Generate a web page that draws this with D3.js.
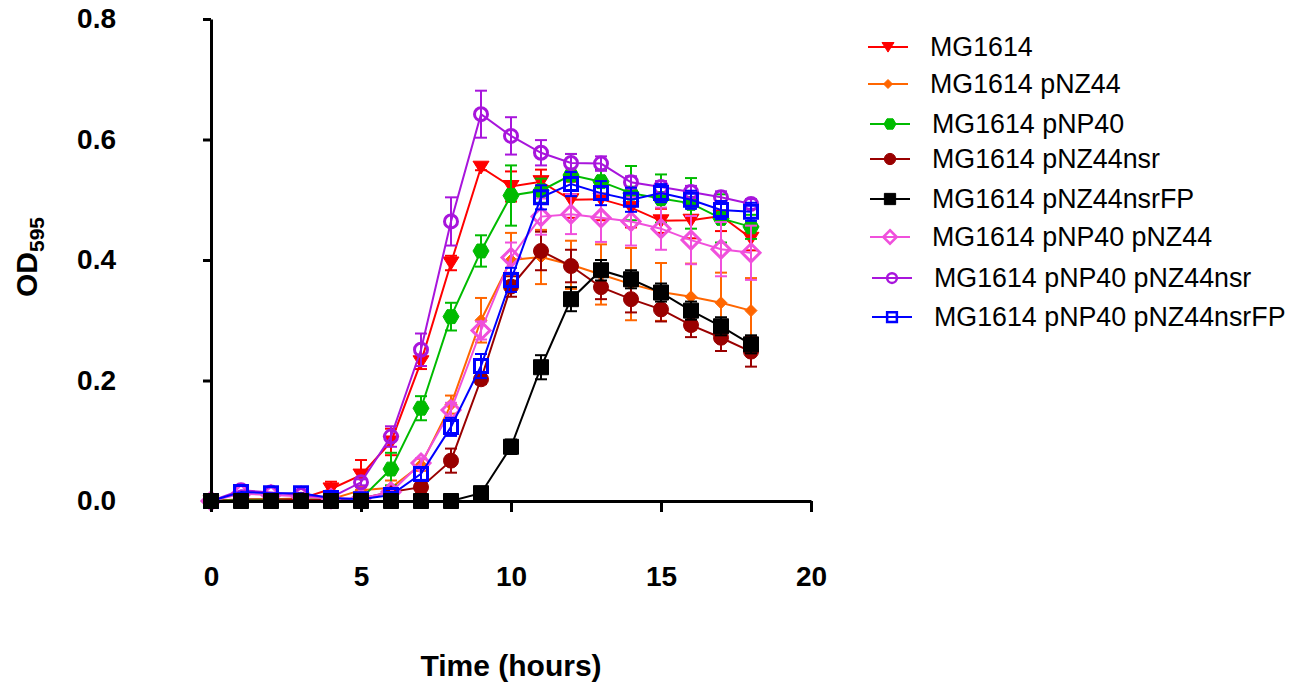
<!DOCTYPE html>
<html>
<head>
<meta charset="utf-8">
<script src="https://d3js.org/d3.v7.min.js"></script>
<style>
  body { margin: 0; background: #fff; }
  svg text { font-family: "Liberation Sans", Arial, sans-serif; }
  .axis text { font-weight: bold; font-size: 28px; fill: #000; }
</style>
</head>
<body>
<div id="growth"></div>
<script>
// time points (hours)
var times = [0,1,2,3,4,5,6,7,8,9,10,11,12,13,14,15,16,17,18];

var seriesNames = ["MG1614", "MG1614 pNZ44", "MG1614 pNP40", "MG1614 pNZ44nsr",
                   "MG1614 pNZ44nsrFP", "MG1614 pNP40 pNZ44", "MG1614 pNP40 pNZ44nsr",
                   "MG1614 pNP40 pNZ44nsrFP"];

// OD595 means
var mg1614 =         [0,0.003,0.003,0.004,0.020,0.043,0.098,0.231,0.395,0.554,0.522,0.530,0.500,0.501,0.487,0.465,0.466,0.473,0.436];
var pNZ44 =          [0,0.002,0.002,0.002,0.003,0.018,0.022,0.060,0.160,0.300,0.400,0.405,0.392,0.376,0.360,0.347,0.339,0.329,0.316];
var pNP40 =          [0,0.002,0.002,0.002,0.002,0.004,0.053,0.154,0.306,0.415,0.507,0.515,0.541,0.530,0.511,0.502,0.494,0.469,0.455];
var pNZ44nsr =       [0,0.001,0.001,0.002,0.002,0.004,0.015,0.023,0.067,0.202,0.356,0.415,0.390,0.355,0.335,0.318,0.292,0.271,0.248];
var pNZ44nsrFP =     [0,0,0,0,0,0,0,0,0,0.013,0.090,0.222,0.335,0.383,0.368,0.346,0.316,0.290,0.260];
var pNP40pNZ44 =     [0,0.012,0.010,0.008,0.004,0.004,0.015,0.063,0.151,0.283,0.404,0.472,0.476,0.470,0.464,0.452,0.433,0.418,0.412];
var pNP40pNZ44nsr =  [0,0.018,0.014,0.010,0.006,0.031,0.107,0.251,0.464,0.642,0.606,0.578,0.561,0.560,0.529,0.521,0.513,0.504,0.493];
var pNP40pNZ44nsrFP =[0,0.015,0.013,0.013,0.005,0.003,0.010,0.045,0.123,0.224,0.367,0.504,0.526,0.511,0.500,0.511,0.500,0.483,0.480];

// error bars (SEM)
var mg1614Err =         [0,0.002,0.002,0.004,0.012,0.025,0.022,0.012,0.012,0.005,0.025,0.020,0.030,0.035,0.033,0.020,0.030,0.025,0.020];
var pNZ44Err =          [0,0,0,0,0.002,0.005,0.012,0.010,0.015,0.037,0.045,0.045,0.040,0.050,0.060,0.048,0.055,0.050,0.054];
var pNP40Err =          [0,0,0,0,0,0.003,0.027,0.020,0.023,0.026,0.050,0.020,0.035,0.020,0.045,0.040,0.042,0.040,0.020];
var pNZ44nsrErr =       [0,0,0,0,0,0.002,0.005,0.010,0.020,0.008,0.017,0.032,0.027,0.020,0.022,0.020,0.020,0.022,0.025];
var pNZ44nsrFPErr =     [0,0,0,0,0,0,0,0,0,0.003,0.012,0.020,0.020,0.017,0.015,0.015,0.015,0.015,0.015];
var pNP40pNZ44Err =     [0,0.003,0.003,0.003,0.002,0.002,0.005,0.008,0.012,0.015,0.025,0.030,0.033,0.040,0.040,0.035,0.040,0.045,0.045];
var pNP40pNZ44nsrErr =  [0,0.003,0.002,0.002,0.002,0.005,0.017,0.027,0.040,0.039,0.031,0.021,0.015,0.012,0.010,0.010,0.010,0.010,0.008];
var pNP40pNZ44nsrFPErr =[0,0.003,0.003,0.003,0.002,0.002,0.005,0.010,0.015,0.020,0.020,0.020,0.020,0.020,0.020,0.015,0.015,0.015,0.015];

var xTicks = [0, 5, 10, 15, 20];
var yTicks = [0, 0.2, 0.4, 0.6, 0.8];

var colors = ["#ff0000", "#ff6600", "#00bb00", "#990000", "#000000", "#f050dc", "#a815dc", "#0000ff"];
var shapes = ["triDown", "smallDiamond", "hexagon", "circle", "square", "openDiamond", "openCircle", "openSquare"];

var means = [mg1614, pNZ44, pNP40, pNZ44nsr, pNZ44nsrFP, pNP40pNZ44, pNP40pNZ44nsr, pNP40pNZ44nsrFP];
var errs = [mg1614Err, pNZ44Err, pNP40Err, pNZ44nsrErr, pNZ44nsrFPErr, pNP40pNZ44Err, pNP40pNZ44nsrErr, pNP40pNZ44nsrFPErr];

// draw black on top of the first four, like the original
var drawOrder = [0, 1, 2, 3, 5, 6, 7, 4];

var margin = {top: 19, right: 496, bottom: 185, left: 211},
    width = 1307 - margin.left - margin.right,
    height = 686 - margin.top - margin.bottom;

var x = d3.scaleLinear().domain([0, 20]).range([0, width]);
var y = d3.scaleLinear().domain([0, 0.8]).range([height, 0]);

var svg = d3.select("#growth")
    .append("svg")
        .attr("width", 1307)
        .attr("height", 686)
    .append("g")
        .attr("transform", "translate(" + margin.left + "," + margin.top + ")");

// marker path, s = scale (1 for plot, smaller for legend)
function markerPath(shape, s) {
  var p = d3.path();
  var r;
  if (shape == "triDown") {
    r = 8 * s;
    p.moveTo(-r, -r * 0.75); p.lineTo(r, -r * 0.75); p.lineTo(0, r * 0.85); p.closePath();
  } else if (shape == "smallDiamond") {
    r = 6 * s;
    p.moveTo(0, -r); p.lineTo(r, 0); p.lineTo(0, r); p.lineTo(-r, 0); p.closePath();
  } else if (shape == "hexagon") {
    r = 8 * s;
    for (var i = 0; i < 6; i++) {
      var a = Math.PI / 3 * i;
      if (i == 0) p.moveTo(r * Math.cos(a), r * Math.sin(a));
      else p.lineTo(r * Math.cos(a), r * Math.sin(a));
    }
    p.closePath();
  } else if (shape == "circle") {
    r = 7.5 * s;
    p.arc(0, 0, r, 0, 2 * Math.PI);
  } else if (shape == "square") {
    r = 7.5 * s;
    p.rect(-r, -r, 2 * r, 2 * r);
  } else if (shape == "openDiamond") {
    r = 9 * s;
    p.moveTo(0, -r); p.lineTo(r, 0); p.lineTo(0, r); p.lineTo(-r, 0); p.closePath();
  } else if (shape == "openCircle") {
    r = 6.5 * s;
    p.arc(0, 0, r, 0, 2 * Math.PI);
  } else if (shape == "openSquare") {
    r = 6.5 * s;
    p.rect(-r, -r, 2 * r, 2 * r);
  }
  return p.toString();
}

function isOpen(shape) {
  return shape.indexOf("open") == 0;
}

var line = d3.line()
    .x(function(d) { return x(d.t); })
    .y(function(d) { return y(d.v); });

drawOrder.forEach(function(k) {
  var data = times.map(function(t, i) { return {t: t, v: means[k][i], e: errs[k][i]}; });
  var g = svg.append("g").attr("class", "series");
  var col = colors[k];

  g.append("path")
      .datum(data)
      .attr("fill", "none")
      .attr("stroke", col)
      .attr("stroke-width", 2)
      .attr("d", line);

  // error bars
  var eb = g.selectAll(".err")
      .data(data.filter(function(d) { return d.e > 0.004; }))
    .enter().append("g")
      .attr("class", "err")
      .attr("stroke", col)
      .attr("stroke-width", 2);
  eb.append("line")
      .attr("x1", function(d) { return x(d.t); })
      .attr("x2", function(d) { return x(d.t); })
      .attr("y1", function(d) { return y(d.v + d.e); })
      .attr("y2", function(d) { return y(d.v - d.e); });
  eb.append("line")
      .attr("x1", function(d) { return x(d.t) - 6; })
      .attr("x2", function(d) { return x(d.t) + 6; })
      .attr("y1", function(d) { return y(d.v + d.e); })
      .attr("y2", function(d) { return y(d.v + d.e); });
  eb.append("line")
      .attr("x1", function(d) { return x(d.t) - 6; })
      .attr("x2", function(d) { return x(d.t) + 6; })
      .attr("y1", function(d) { return y(d.v - d.e); })
      .attr("y2", function(d) { return y(d.v - d.e); });

  g.selectAll(".marker")
      .data(data)
    .enter().append("path")
      .attr("class", "marker")
      .attr("transform", function(d) { return "translate(" + x(d.t) + "," + y(d.v) + ")"; })
      .attr("d", markerPath(shapes[k], 1))
      .attr("fill", isOpen(shapes[k]) ? "none" : col)
      .attr("stroke", col)
      .attr("stroke-width", isOpen(shapes[k]) ? 3 : 1);
});

// Y axis
var yAxis = d3.axisLeft(y)
    .tickValues(yTicks)
    .tickFormat(d3.format(".1f"))
    .tickSizeInner(8)
    .tickSizeOuter(0)
    .tickPadding(87);

var yg = svg.append("g")
    .attr("class", "axis")
    .call(yAxis);
yg.select(".domain").attr("stroke-width", 3);
yg.selectAll(".tick line").attr("stroke-width", 3);

// X axis
var xAxis = d3.axisBottom(x)
    .tickValues(xTicks)
    .tickSizeInner(11)
    .tickSizeOuter(0)
    .tickPadding(54);

var xg = svg.append("g")
    .attr("class", "axis")
    .attr("transform", "translate(0," + height + ")")
    .call(xAxis);
xg.select(".domain").attr("stroke-width", 3);
xg.selectAll(".tick line").attr("stroke-width", 3);

// axis titles
svg.append("text")
    .attr("x", width / 2)
    .attr("y", height + 175)
    .attr("text-anchor", "middle")
    .style("font-weight", "bold")
    .style("font-size", "30px")
    .text("Time (hours)");

var yt = svg.append("text")
    .attr("transform", "translate(" + (-174) + "," + (height / 2 - 3) + ") rotate(-90)")
    .attr("text-anchor", "middle")
    .style("font-weight", "bold")
    .style("font-size", "30px");
yt.append("tspan").text("OD");
yt.append("tspan")
    .attr("dy", 7)
    .style("font-size", "21px")
    .text("595");

// legend
var legendY = [47, 84, 124, 159, 199, 237, 278, 317];
var legendX = [868, 868, 870, 870, 870, 870, 872, 872];
var legend = d3.select("svg").append("g").attr("class", "legend");

seriesNames.forEach(function(name, k) {
  var lg = legend.append("g")
      .attr("transform", "translate(" + legendX[k] + "," + legendY[k] + ")");
  lg.append("line")
      .attr("x1", 0).attr("x2", 40)
      .attr("stroke", colors[k])
      .attr("stroke-width", 2);
  lg.append("path")
      .attr("transform", "translate(20,0)")
      .attr("d", markerPath(shapes[k], 0.75))
      .attr("fill", isOpen(shapes[k]) ? "none" : colors[k])
      .attr("stroke", colors[k])
      .attr("stroke-width", isOpen(shapes[k]) ? 2.5 : 1);
  lg.append("text")
      .attr("x", 62)
      .attr("y", 9)
      .style("font-size", "26.8px")
      .text(name);
});
</script>
</body>
</html>
